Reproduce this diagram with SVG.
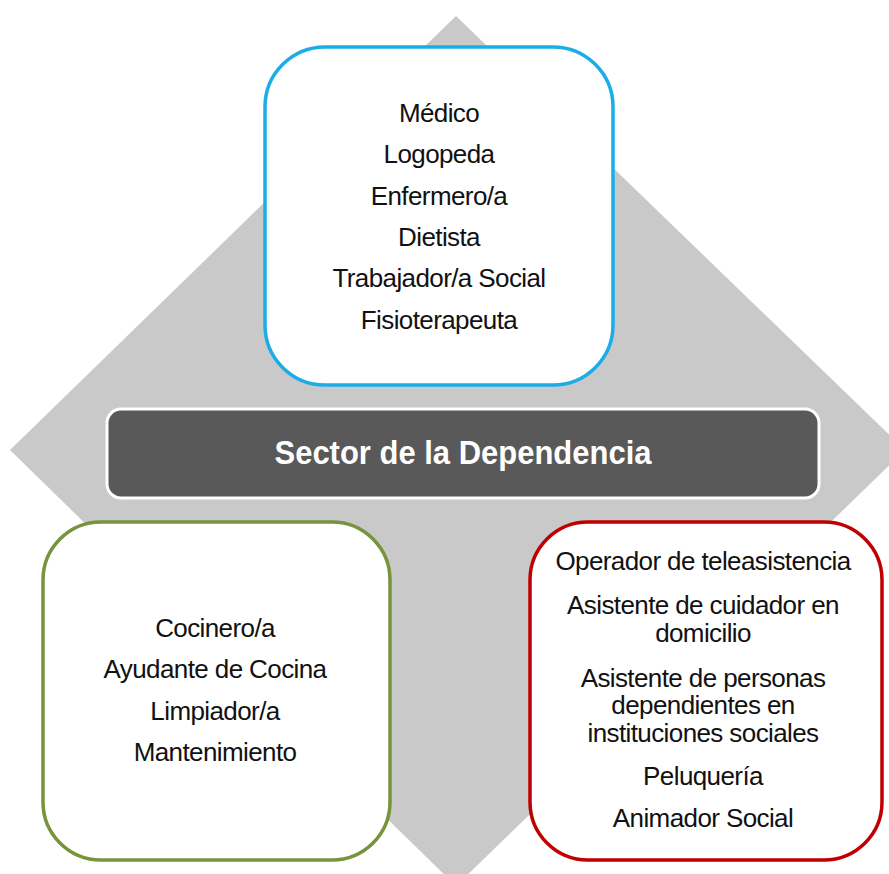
<svg xmlns="http://www.w3.org/2000/svg" width="889" height="874" viewBox="0 0 889 874">
<style>
.box{fill:#fff;stroke-width:3.5}
.t{font-family:"Liberation Sans",Arial,sans-serif;font-size:26px;letter-spacing:-0.6px;fill:#111;text-anchor:middle}
.h{font-family:"Liberation Sans",Arial,sans-serif;font-size:33px;font-weight:bold;fill:#fff;text-anchor:middle}
</style>
<rect width="889" height="874" fill="#fff"/>
<polygon id="diamond" points="456,16 905,450 456,886 10,450" fill="#C9C9C9"/>
<g id="connectors"></g>
<g id="top">
<rect class="box" x="265" y="47" width="348" height="338" rx="60" stroke="#1AADE8"/>
<text class="t" x="439" y="121.5">Médico</text>
<text class="t" x="439" y="163">Logopeda</text>
<text class="t" x="439" y="204.5">Enfermero/a</text>
<text class="t" x="439" y="245.5">Dietista</text>
<text class="t" x="439" y="287">Trabajador/a Social</text>
<text class="t" x="439" y="328.5">Fisioterapeuta</text>
</g>
<g id="center">
<rect x="107" y="409" width="712" height="89" rx="14" fill="#595959" stroke="#fff" stroke-width="3"/>
<text class="h" x="463" y="464" textLength="377" lengthAdjust="spacingAndGlyphs">Sector de la Dependencia</text>
</g>
<g id="left">
<rect class="box" x="43" y="522" width="347" height="338" rx="58" stroke="#77933C"/>
<text class="t" x="215" y="637">Cocinero/a</text>
<text class="t" x="215" y="678">Ayudante de Cocina</text>
<text class="t" x="215" y="720">Limpiador/a</text>
<text class="t" x="215" y="761">Mantenimiento</text>
</g>
<g id="right">
<rect class="box" x="530" y="522" width="352" height="338" rx="58" stroke="#C00000"/>
<text class="t" x="703" y="570">Operador de teleasistencia</text>
<text class="t" x="703" y="614">Asistente de cuidador en</text>
<text class="t" x="703" y="642">domicilio</text>
<text class="t" x="703" y="687">Asistente de personas</text>
<text class="t" x="703" y="714">dependientes en</text>
<text class="t" x="703" y="742">instituciones sociales</text>
<text class="t" x="703" y="785">Peluquería</text>
<text class="t" x="703" y="827">Animador Social</text>
</g>
</svg>
